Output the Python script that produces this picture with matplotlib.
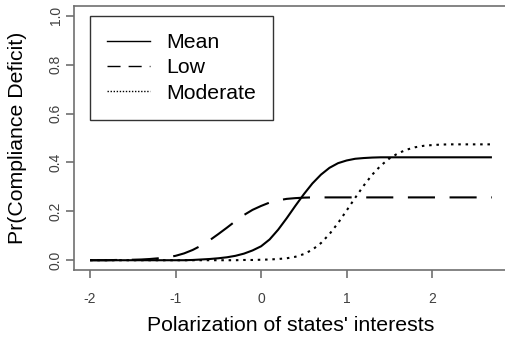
import numpy as np
import matplotlib
matplotlib.use("Agg")
import matplotlib.pyplot as plt
from matplotlib.lines import Line2D

plt.rcParams['font.family'] = ['Liberation Sans', 'DejaVu Sans']

# values (x step 0.1 from -2 to 2.7)
x = np.round(np.arange(-2.0, 2.71, 0.1), 1)

mean = [0.0, 0.0, 0.0, 0.0, 0.0, 0.0, 0.0, 0.0, 0.0, 0.0,
        0.0, 0.0, 0.001, 0.003, 0.005, 0.008, 0.012, 0.018, 0.027, 0.04,
        0.057, 0.085, 0.125, 0.172, 0.222, 0.27, 0.314, 0.35, 0.378, 0.397,
        0.408, 0.415, 0.418, 0.42, 0.421, 0.421, 0.421, 0.421, 0.421, 0.421,
        0.421, 0.421, 0.421, 0.421, 0.421, 0.421, 0.421, 0.421]

low = [0.0, 0.0, 0.0, 0.001, 0.001, 0.002, 0.003, 0.005, 0.008, 0.012,
       0.018, 0.028, 0.042, 0.06, 0.082, 0.107, 0.133, 0.16, 0.185, 0.206,
       0.222, 0.236, 0.245, 0.251, 0.254, 0.256, 0.257, 0.257, 0.257, 0.257,
       0.257, 0.257, 0.257, 0.257, 0.257, 0.257, 0.257, 0.257, 0.257, 0.257,
       0.257, 0.257, 0.257, 0.257, 0.257, 0.257, 0.257, 0.257]

moderate = [0.0, 0.0, 0.0, 0.0, 0.0, 0.0, 0.0, 0.0, 0.0, 0.0,
            0.0, 0.0, 0.0, 0.0, 0.0, 0.0, 0.0, 0.0, 0.001, 0.001,
            0.002, 0.003, 0.005, 0.008, 0.014, 0.025, 0.043, 0.07, 0.107, 0.152,
            0.203, 0.255, 0.305, 0.35, 0.387, 0.416, 0.437, 0.452, 0.462, 0.468,
            0.471, 0.473, 0.474, 0.474, 0.474, 0.474, 0.474, 0.474]

labels = ["Mean", "Low", "Moderate"]
xticks = [-2, -1, 0, 1, 2]
yticks = [0.0, 0.2, 0.4, 0.6, 0.8, 1.0]

fig = plt.figure(figsize=(5.06, 3.43), dpi=100)
ax = fig.add_axes([74 / 506, 1 - 270 / 343, 434 / 506, 264 / 343])

ax.plot(x, mean, color="black", lw=1.5, solid_capstyle="butt")
ax.plot(x, low, color="black", lw=1.5, dashes=(13, 7), dash_capstyle="butt")
ax.plot(x, moderate, color="black", lw=1.5, dashes=(1.2, 2.3), dash_capstyle="butt")

# R-style 4% padding
ax.set_xlim(-2 - 0.188, 2.7 + 0.188)
ax.set_ylim(-0.04, 1.04)

gray = "#707070"
for s in ["left", "bottom", "top"]:
    ax.spines[s].set_color(gray)
    ax.spines[s].set_linewidth(1.2)
ax.spines["right"].set_visible(False)

ax.set_xticks(xticks)
ax.set_xticklabels([str(t) for t in xticks])
ax.set_yticks(yticks)
ax.set_yticklabels([f"{t:.1f}" for t in yticks], rotation=90, va="center")
ax.tick_params(axis="both", colors=gray, labelcolor="#404040", length=6, width=1.2,
               labelsize=10)
ax.tick_params(axis="x", pad=10)
ax.tick_params(axis="y", pad=2)

ax.set_xlabel("Polarization of states' interests", fontsize=15.3, labelpad=7)
ax.set_ylabel("Pr(Compliance Deficit)", fontsize=15.3, labelpad=16)

handles = [
    Line2D([], [], color="black", lw=1.0),
    Line2D([], [], color="black", lw=1.0, dashes=(9.4, 5.8)),
    Line2D([], [], color="black", lw=1.0, dashes=(1, 1.2)),
]
leg = ax.legend(handles, labels, loc="upper left",
                bbox_to_anchor=(90 / 506, 1 - 16 / 343), bbox_transform=fig.transFigure,
                borderaxespad=0, fontsize=15.3, frameon=True, fancybox=False,
                borderpad=0.8, handlelength=2.0, handletextpad=0.8, labelspacing=0.3)
leg.get_frame().set_edgecolor("black")
leg.get_frame().set_linewidth(1.0)

fig.savefig("out.png", dpi=100)
